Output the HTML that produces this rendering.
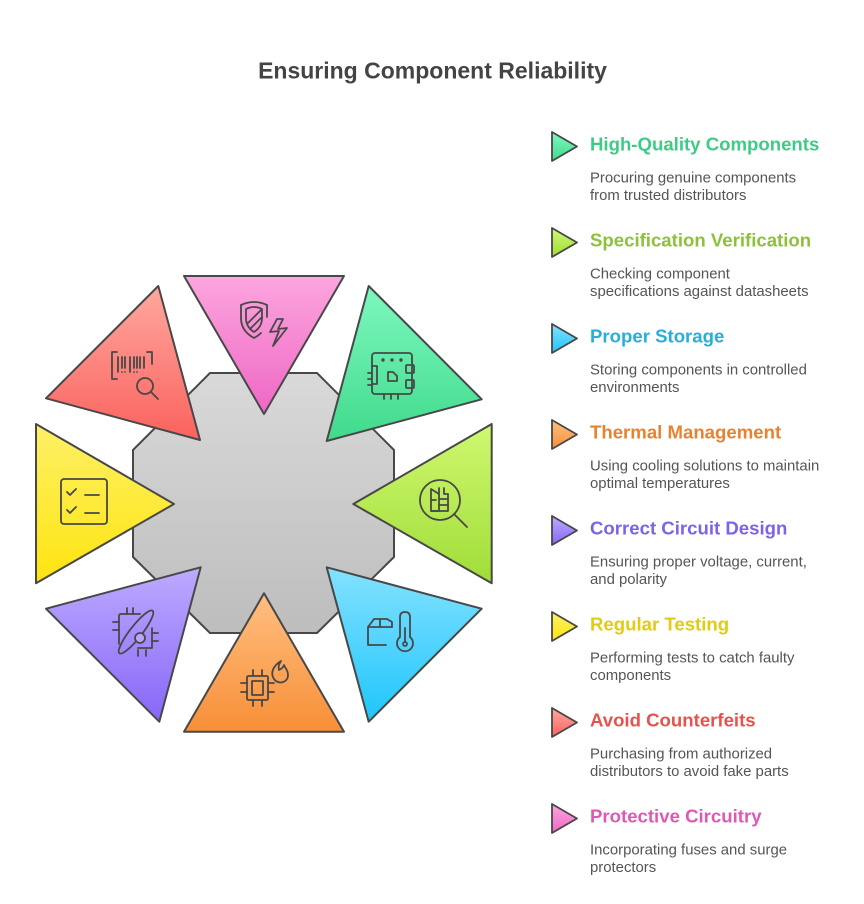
<!DOCTYPE html>
<html>
<head>
<meta charset="utf-8">
<style>
  html,body{margin:0;padding:0;background:#ffffff;}
  svg{display:block;}
  .t{font-family:"Liberation Sans",Arial,sans-serif;}
</style>
</head>
<body>
<svg width="864" height="904" viewBox="0 0 864 904" xmlns="http://www.w3.org/2000/svg">
  <defs>
    <linearGradient id="gOct" x1="0" y1="0" x2="0" y2="1"><stop offset="0" stop-color="#d9d9d9"/><stop offset="1" stop-color="#bdbdbd"/></linearGradient>
    <linearGradient id="gPink" x1="0" y1="0" x2="0" y2="1"><stop offset="0" stop-color="#fca6de"/><stop offset="1" stop-color="#ef67c5"/></linearGradient>
    <linearGradient id="gGreen" x1="0" y1="0" x2="0" y2="1"><stop offset="0" stop-color="#7ef8bf"/><stop offset="1" stop-color="#40da8c"/></linearGradient>
    <linearGradient id="gLime" x1="0" y1="0" x2="0" y2="1"><stop offset="0" stop-color="#cff870"/><stop offset="1" stop-color="#a0dd38"/></linearGradient>
    <linearGradient id="gBlue" x1="0" y1="0" x2="0" y2="1"><stop offset="0" stop-color="#84e2ff"/><stop offset="1" stop-color="#1fc5fc"/></linearGradient>
    <linearGradient id="gOrange" x1="0" y1="0" x2="0" y2="1"><stop offset="0" stop-color="#ffbf82"/><stop offset="1" stop-color="#f78f37"/></linearGradient>
    <linearGradient id="gPurple" x1="0" y1="0" x2="0" y2="1"><stop offset="0" stop-color="#bdabff"/><stop offset="1" stop-color="#8766f8"/></linearGradient>
    <linearGradient id="gYellow" x1="0" y1="0" x2="0" y2="1"><stop offset="0" stop-color="#fdf067"/><stop offset="1" stop-color="#ffe40f"/></linearGradient>
    <linearGradient id="gRed" x1="0" y1="0" x2="0" y2="1"><stop offset="0" stop-color="#fea89f"/><stop offset="1" stop-color="#fb625e"/></linearGradient>
  </defs>

  <!-- Title -->
  <text class="t" x="432.5" y="78.3" text-anchor="middle" font-size="23" font-weight="bold" fill="#444444">Ensuring Component Reliability</text>

  <!-- Octagon -->
  <polygon points="210,373 317,373 394,450 394,557 317,633 210,633 133,557 133,450" fill="url(#gOct)" stroke="#484848" stroke-width="2" stroke-linejoin="round"/>

  <!-- Triangles -->
  <g stroke="#484848" stroke-width="2" stroke-linejoin="round">
    <polygon points="184,276 344,276 264,414" fill="url(#gPink)"/>
    <polygon points="368.7,286 481.7,399.3 326.7,441" fill="url(#gGreen)"/>
    <polygon points="491.7,424 491.7,583.3 353.3,504" fill="url(#gLime)"/>
    <polygon points="326.7,567.3 481.7,608.7 368.7,721.7" fill="url(#gBlue)"/>
    <polygon points="264,593.3 344,731.7 184,731.7" fill="url(#gOrange)"/>
    <polygon points="200.7,567.3 159.3,721.7 46,608.7" fill="url(#gPurple)"/>
    <polygon points="36,424 174,504 36,583.3" fill="url(#gYellow)"/>
    <polygon points="158.3,286 200,440 46,398.3" fill="url(#gRed)"/>
  </g>

  <!-- Icons -->
  <g fill="none" stroke="#484848" stroke-width="1.8" stroke-linecap="round" stroke-linejoin="round">
    <!-- Pink: shield + bolt -->
    <path d="M241,305 Q254,299 267,305 V317 M241,305 V318 Q241,331 254,338 Q258,336 261,333"/>
    <path d="M246,309 Q254,305 262,309 V318 Q262,327 254,332 Q246,327 246,318 Z"/>
    <path d="M248,323 L261,310 M250,329 L262,317"/>
    <path d="M277,319 L270,332 L279,331 L273,346 L287,328 L278,329 L283,319 Z"/>

    <!-- Red: barcode + magnifier -->
    <path d="M117,352 H112 V379 H117 M147,352 H152 V364 M112,365 V365"/>
    <path d="M118,357 V372 M122,357 V368 M125,357 V368 M130,357 V372 M134,357 V368 M137,357 V368 M140,357 V368 M144,357 V368"/>
    <path d="M122,372 V372 M125,372 V372 M134,372 V372 M137,372 V372"/>
    <circle cx="145" cy="386" r="8"/>
    <path d="M151,392 L158,399"/>

    <!-- Green: circuit board -->
    <rect x="372" y="353" width="40" height="41" rx="3"/>
    <circle cx="383" cy="360" r="0.8"/><circle cx="392" cy="360" r="0.8"/><circle cx="401" cy="360" r="0.8"/>
    <path d="M368,373 H372 M368,379 H372 M368,385 H372"/>
    <path d="M372,366 H377 V384 H372"/>
    <path d="M388,372 H393 L397,376 V381 H388 Z"/>
    <rect x="406" y="365" width="8" height="8" rx="1"/>
    <rect x="406" y="380" width="8" height="8" rx="1"/>
    <path d="M384,394 V399 M391,394 V399 M398,394 V399"/>

    <!-- Lime: building + magnifier -->
    <circle cx="440" cy="500" r="20"/>
    <path d="M454,514 L467,527"/>
    <path d="M431,511 V489 L439,494 V511 Z"/>
    <path d="M439,494 V488 M444,488 V494 H448 V511 H431"/>
    <path d="M439,499 H448 M439,505 H448 M431,500 H436"/>

    <!-- Yellow: checklist -->
    <rect x="61" y="479" width="46" height="45" rx="3"/>
    <path d="M67,492 L70,495 L76,489 M67,510 L70,513 L76,507"/>
    <path d="M85,495 H99 M85,513 H99"/>

    <!-- Purple: chip with orbit -->
    <path d="M121,614 H140 M152,628 V648 H138 M121,614 Q119,614 119,616 V644"/>
    <path d="M127,608 V614 M133,608 V614 M113,622 H119 M113,630 H119 M152,633 H158 M152,641 H158 M138,650 V656 M146,650 V656"/>
    <ellipse cx="136" cy="632" rx="27" ry="6" transform="rotate(-52 136 632)"/>
    <circle cx="140" cy="638" r="5" fill="#b7a5ff"/>

    <!-- Orange: chip + flame -->
    <rect x="247" y="676" width="21" height="24" rx="1.5"/>
    <rect x="252" y="681" width="11" height="14"/>
    <path d="M253,670 V676 M262,670 V676 M253,700 V706 M262,700 V706 M241,683 H247 M241,692 H247 M268,683 H274 M268,692 H274"/>
    <path d="M281,661 C273,666 270,673 274,679 C278,685 288,683 288,675 C288,670 285,668 284,665 C283,668 281,669 279,670 C278,667 279,664 281,661 Z"/>

    <!-- Blue: box + thermometer -->
    <path d="M392,627 V622 L387,619 H374 L368,627 V645 H386"/>
    <path d="M368,627 H392 M380,619 V627"/>
    <path d="M400,637 V617 Q400,612 405,612 Q410,612 410,617 V637 A8,8 0 1 1 400,637 Z"/>
    <circle cx="405" cy="644" r="2"/>
    <path d="M405,642 V628"/>
  </g>

  <!-- Legend markers -->
  <g stroke="#484848" stroke-width="1.8" stroke-linejoin="round">
    <polygon points="552,132 552,161 577,146.5" fill="url(#gGreen)"/>
    <polygon points="552,228 552,257 577,242.5" fill="url(#gLime)"/>
    <polygon points="552,324 552,353 577,338.5" fill="url(#gBlue)"/>
    <polygon points="552,420 552,449 577,434.5" fill="url(#gOrange)"/>
    <polygon points="552,516 552,545 577,530.5" fill="url(#gPurple)"/>
    <polygon points="552,612 552,641 577,626.5" fill="url(#gYellow)"/>
    <polygon points="552,708 552,737 577,722.5" fill="url(#gRed)"/>
    <polygon points="552,804 552,833 577,818.5" fill="url(#gPink)"/>
  </g>

  <!-- Legend text -->
  <g class="t" font-size="18.6" font-weight="bold">
    <text x="590" y="150.5" fill="#3ecb86">High-Quality Components</text>
    <text x="590" y="246.5" fill="#8dc13a">Specification Verification</text>
    <text x="590" y="342.5" fill="#27aedd">Proper Storage</text>
    <text x="590" y="438.5" fill="#e8822f">Thermal Management</text>
    <text x="590" y="534.5" fill="#7d62ea">Correct Circuit Design</text>
    <text x="590" y="630.5" fill="#e2cb12">Regular Testing</text>
    <text x="590" y="726.5" fill="#e8524d">Avoid Counterfeits</text>
    <text x="590" y="822.5" fill="#e058b5">Protective Circuitry</text>
  </g>
  <g class="t" font-size="14.9" fill="#555555">
    <text x="590" y="182.5">Procuring genuine components</text>
    <text x="590" y="200">from trusted distributors</text>
    <text x="590" y="278.5">Checking component</text>
    <text x="590" y="296">specifications against datasheets</text>
    <text x="590" y="374.5">Storing components in controlled</text>
    <text x="590" y="392">environments</text>
    <text x="590" y="470.5">Using cooling solutions to maintain</text>
    <text x="590" y="488">optimal temperatures</text>
    <text x="590" y="566.5">Ensuring proper voltage, current,</text>
    <text x="590" y="584">and polarity</text>
    <text x="590" y="662.5">Performing tests to catch faulty</text>
    <text x="590" y="680">components</text>
    <text x="590" y="758.5">Purchasing from authorized</text>
    <text x="590" y="776">distributors to avoid fake parts</text>
    <text x="590" y="854.5">Incorporating fuses and surge</text>
    <text x="590" y="872">protectors</text>
  </g>
</svg>
</body>
</html>
